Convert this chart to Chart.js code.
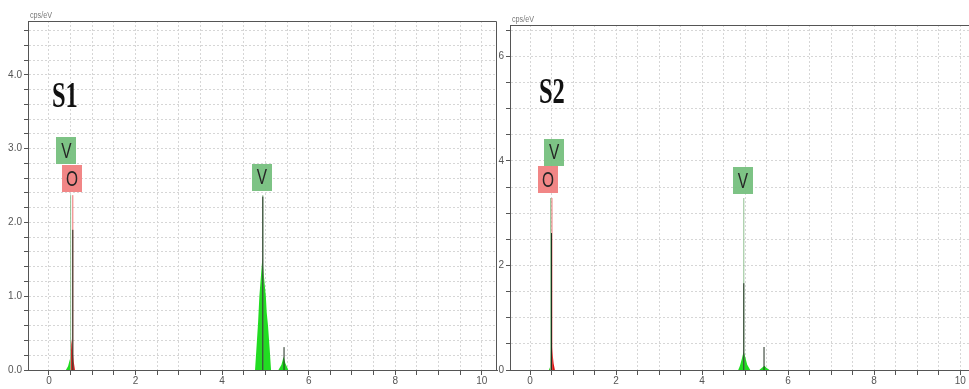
<!DOCTYPE html>
<html>
<head>
<meta charset="utf-8">
<title>EDS spectra S1 / S2</title>
<script src="https://cdn.jsdelivr.net/npm/chart.js@4.4.1/dist/chart.umd.min.js"></script>
<style>
    html, body { margin: 0; padding: 0; width: 969px; height: 389px; overflow: hidden; background: #fff; }
    canvas { position: absolute; top: 0; }
    #panel-s1 { left: 0; }
    #panel-s2 { left: 497px; }
</style>
</head>
<body>
<canvas id="panel-s1" width="500" height="389"></canvas>
<canvas id="panel-s2" width="492" height="389"></canvas>
<script>
// ---- S1 spectrum (energy in keV, intensity in cps/eV) ----
const s1VEnergy = [0.39, 0.44, 0.47, 0.49, 0.51, 0.53, 4.76, 4.79, 4.83, 4.86, 4.90, 4.93, 4.96, 5.01, 5.03, 5.06, 5.10, 5.13, 5.30, 5.37, 5.42, 5.46, 5.53];
const s1VCps    = [0,    0.05, 0.12, 0.16, 0.06, 0,    0,    0.27, 0.64, 1.00, 1.30, 1.52, 1.30, 1.00, 0.78, 0.60, 0.27, 0,    0,    0.07, 0.18, 0.09, 0];
const s1OEnergy = [0.49, 0.52, 0.54, 0.57, 0.60];
const s1OCps    = [0,    0.42, 0.30, 0.12, 0];
const s1SpikeEnergy = [0.55, 4.94, 5.43];
const s1SpikeCps    = [1.90, 2.35, 0.31];
const s1MarkerElement = ['V', 'O', 'V'];
const s1MarkerEnergy  = [0.50, 0.55, 4.94];
const s1MarkerCps     = [2.37, 2.37, 2.37];
const s1LabelText   = ['V', 'O', 'V'];
const s1LabelEnergy = [0.40, 0.53, 4.92];
const s1LabelCps    = [2.97, 2.59, 2.61];

// ---- S2 spectrum ----
const s2VEnergy = [0.44, 0.47, 0.49, 0.50, 4.84, 4.88, 4.92, 4.95, 4.97, 5.00, 5.05, 5.12, 5.33, 5.40, 5.45, 5.50, 5.57];
const s2VCps    = [0,    0.06, 0.03, 0,    0,    0.08, 0.20, 0.30, 0.35, 0.26, 0.10, 0,    0,    0.05, 0.08, 0.04, 0];
const s2OEnergy = [0.46, 0.50, 0.52, 0.55, 0.58];
const s2OCps    = [0,    0.57, 0.35, 0.12, 0];
const s2SpikeEnergy = [0.50, 4.97, 5.44];
const s2SpikeCps    = [2.62, 1.66, 0.44];
const s2MarkerElement = ['V', 'O', 'V'];
const s2MarkerEnergy  = [0.48, 0.51, 4.97];
const s2MarkerCps     = [3.29, 3.29, 3.29];
const s2LabelText   = ['V', 'O', 'V'];
const s2LabelEnergy = [0.56, 0.42, 4.95];
const s2LabelCps    = [4.17, 3.64, 3.62];

// ---- axis ticks ----
const xTickLabels = [0, 2, 4, 6, 8, 10];
const s1YTickLabels = [0, 1, 2, 3, 4];
const s2YTickLabels = [0, 2, 4, 6];

Chart.defaults.font.family = '"Liberation Sans", Arial, sans-serif';
Chart.defaults.color = '#555';

const near = (a, b) => Math.abs(a - b) < 1e-6;
const onStep = (v, step) => near(v / step, Math.round(v / step));

function toPoints(energy, cps) {
    return energy.map((e, i) => ({ x: e, y: cps[i] }));
}

// vertical lines from the baseline, separated by gaps
function toStems(energy, cps) {
    const pts = [];
    energy.forEach((e, i) => {
        pts.push({ x: e, y: 0 }, { x: e, y: cps[i] }, { x: e, y: null });
    });
    return pts;
}

function pick(list, element, kinds) {
    return list.filter((_, i) => kinds[i] === element);
}

const panels = [
    {
        canvas: 'panel-s1', title: 'S1',
        vE: s1VEnergy, vC: s1VCps, oE: s1OEnergy, oC: s1OCps,
        spikeE: s1SpikeEnergy, spikeC: s1SpikeCps,
        markerK: s1MarkerElement, markerE: s1MarkerEnergy, markerC: s1MarkerCps,
        labelT: s1LabelText, labelE: s1LabelEnergy, labelC: s1LabelCps,
        yTicks: s1YTickLabels, yFmt: v => v.toFixed(1),
        xMin: -0.485, xMax: 10.35, yMax: 4.73, yStep: 0.2,
        yAxisWidth: 28, padTop: 21, titleDx: 24, titleDy: 86
    },
    {
        canvas: 'panel-s2', title: 'S2',
        vE: s2VEnergy, vC: s2VCps, oE: s2OEnergy, oC: s2OCps,
        spikeE: s2SpikeEnergy, spikeC: s2SpikeCps,
        markerK: s2MarkerElement, markerE: s2MarkerEnergy, markerC: s2MarkerCps,
        labelT: s2LabelText, labelE: s2LabelEnergy, labelC: s2LabelCps,
        yTicks: s2YTickLabels, yFmt: v => String(v),
        xMin: -0.465, xMax: 10.6, yMax: 6.6, yStep: 0.5,
        yAxisWidth: 13, padTop: 25, titleDx: 29, titleDy: 78
    }
];

// frame, unit label, panel title and element tags
function decorPlugin(p) {
    return {
        id: 'decor',
        afterDraw(chart) {
            const ctx = chart.ctx;
            const a = chart.chartArea;
            const xs = chart.scales.x, ys = chart.scales.y;

            ctx.save();
            ctx.strokeStyle = '#555';
            ctx.lineWidth = 1;
            ctx.beginPath();
            ctx.moveTo(Math.round(a.left) + 0.5, Math.round(a.top) + 0.5);
            ctx.lineTo(Math.round(a.right) - 0.5, Math.round(a.top) + 0.5);
            ctx.lineTo(Math.round(a.right) - 0.5, Math.round(a.bottom));
            ctx.stroke();

            // cps/eV
            ctx.fillStyle = '#777';
            ctx.font = '9px "Liberation Sans"';
            ctx.textBaseline = 'alphabetic';
            ctx.save();
            ctx.translate(a.left + 2, a.top - 3);
            ctx.scale(0.8, 1);
            ctx.fillText('cps/eV', 0, 0);
            ctx.restore();

            // S1 / S2
            ctx.save();
            ctx.fillStyle = '#111';
            ctx.font = 'bold 36px "Liberation Serif"';
            ctx.translate(a.left + p.titleDx, a.top + p.titleDy);
            ctx.scale(0.68, 1);
            ctx.fillText(p.title, 0, 0);
            ctx.restore();

            // element tags
            p.labelT.forEach((t, i) => {
                const cx = xs.getPixelForValue(p.labelE[i]);
                const cy = ys.getPixelForValue(p.labelC[i]);
                ctx.fillStyle = t === 'O' ? 'rgba(240,128,128,0.95)' : 'rgba(118,192,126,0.95)';
                ctx.fillRect(Math.round(cx - 10), Math.round(cy - 13.5), 20, 27);
                ctx.save();
                ctx.fillStyle = '#262626';
                ctx.font = '22px "Liberation Sans"';
                ctx.textAlign = 'center';
                ctx.textBaseline = 'middle';
                ctx.translate(cx, cy + 1);
                ctx.scale(0.7, 1);
                ctx.fillText(t, 0, 0);
                ctx.restore();
            });
            ctx.restore();
        }
    };
}

function buildDatasets(p) {
    const base = { pointRadius: 0, tension: 0, spanGaps: false };
    return [
        { ...base, data: toStems(p.spikeE, p.spikeC), borderColor: '#1f2e1f', borderWidth: 1, fill: false },
        { ...base, data: toStems(pick(p.markerE, 'V', p.markerK), pick(p.markerC, 'V', p.markerK)),
          borderColor: '#8fbf8f', borderWidth: 1, fill: false },
        { ...base, data: toStems(pick(p.markerE, 'O', p.markerK), pick(p.markerC, 'O', p.markerK)),
          borderColor: '#ee7070', borderWidth: 1, fill: false },
        { ...base, data: toPoints(p.oE, p.oC), borderWidth: 0, borderColor: 'rgba(0,0,0,0)',
          backgroundColor: '#d81414', fill: 'origin' },
        { ...base, data: toPoints(p.vE, p.vC), borderWidth: 0, borderColor: 'rgba(0,0,0,0)',
          backgroundColor: '#22dc22', fill: 'origin' }
    ];
}

function buildScales(p) {
    const gridStyle = { color: '#d6d6d6', tickColor: '#555', lineWidth: 1 };
    return {
        x: {
            type: 'linear', min: p.xMin, max: p.xMax,
            afterFit: s => { s.height = 19; },
            afterBuildTicks: s => { s.ticks = s.ticks.filter(t => onStep(t.value, 0.5)); },
            ticks: {
                stepSize: 0.5, includeBounds: false, autoSkip: false, maxTicksLimit: 200,
                maxRotation: 0, minRotation: 0, padding: 0, color: '#555', font: { size: 10 },
                callback: v => xTickLabels.some(l => near(l, v)) ? String(Math.round(v)) : ''
            },
            grid: { ...gridStyle, tickLength: 5 },
            border: { color: '#555', width: 1, dash: [2, 2] }
        },
        y: {
            type: 'linear', min: 0, max: p.yMax,
            afterFit: s => { s.width = p.yAxisWidth; },
            afterBuildTicks: s => { s.ticks = s.ticks.filter(t => onStep(t.value, p.yStep)); },
            ticks: {
                stepSize: p.yStep, includeBounds: false, autoSkip: false, maxTicksLimit: 200,
                padding: 2, color: '#555', font: { size: 10 },
                callback: v => p.yTicks.some(l => near(l, v)) ? p.yFmt(Math.round(v)) : ''
            },
            grid: { ...gridStyle, tickLength: 4 },
            border: { color: '#555', width: 1, dash: [2, 2] }
        }
    };
}

function renderPanel(p) {
    const ctx = document.getElementById(p.canvas).getContext('2d');
    new Chart(ctx, {
        type: 'line',
        data: { datasets: buildDatasets(p) },
        options: {
            responsive: false,
            animation: false,
            devicePixelRatio: 1,
            layout: { padding: { top: p.padTop, right: 3, left: 0, bottom: 0 } },
            plugins: { legend: { display: false }, tooltip: { enabled: false } },
            scales: buildScales(p)
        },
        plugins: [decorPlugin(p)]
    });
}

panels.forEach(renderPanel);
</script>
</body>
</html>
